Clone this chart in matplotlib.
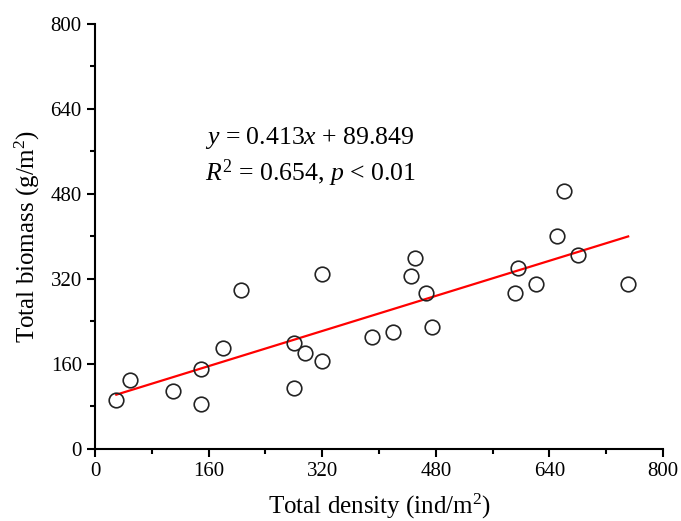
import numpy as np
import matplotlib.pyplot as plt
from matplotlib.ticker import MultipleLocator

# data
density = [30, 49, 110, 150, 150, 180, 205, 280, 280, 296, 320, 320, 390,
           420, 475, 466, 445, 451, 591, 596, 621, 651, 661, 681, 751]
biomass = [92, 130, 110, 85, 151, 190, 299, 115, 200, 180, 166, 330, 210,
           220, 230, 294, 325, 360, 294, 340, 310, 400, 485, 365, 310]
slope = 0.413
intercept = 89.849

plt.rcParams['font.family'] = ['Liberation Serif', 'DejaVu Serif']
plt.rcParams['mathtext.fontset'] = 'custom'
plt.rcParams['mathtext.rm'] = 'Liberation Serif'
plt.rcParams['mathtext.it'] = 'Liberation Serif:italic'

fig = plt.figure(figsize=(6.81, 5.21), dpi=100)
ax = fig.add_axes([0.1395, 0.1382, 0.834, 0.816])

x = np.array(density)
xf = np.array([x.min(), x.max()])
ax.plot(xf, slope * xf + intercept, color='red', lw=1.6, zorder=2)
ax.plot(density, biomass, 'o', mfc='none', mec='#222222', mew=1.2, ms=10.5, zorder=3)

ax.set_xlim(0, 800)
ax.set_ylim(0, 800)
ax.xaxis.set_major_locator(MultipleLocator(160))
ax.yaxis.set_major_locator(MultipleLocator(160))
ax.xaxis.set_minor_locator(MultipleLocator(80))
ax.yaxis.set_minor_locator(MultipleLocator(80))
ax.spines['top'].set_visible(False)
ax.spines['right'].set_visible(False)
for s in ['left', 'bottom']:
    ax.spines[s].set_linewidth(1.5)
ax.tick_params(which='major', direction='out', length=6, width=1.5, labelsize=15)
ax.tick_params(which='minor', direction='out', length=3.5, width=1.5)

ax.set_xlabel('Total density (ind/m$^2$)', fontsize=18, labelpad=8)
ax.set_ylabel('Total biomass (g/m$^2$)', fontsize=18, labelpad=6)

ax.text(155, 585, '$y$ = 0.413$x$ + 89.849', fontsize=18.5, va='center')
ax.text(155, 519, '$R^2$ = 0.654, $p$ < 0.01', fontsize=18.5, va='center')

fig.savefig('out.png', dpi=100)
